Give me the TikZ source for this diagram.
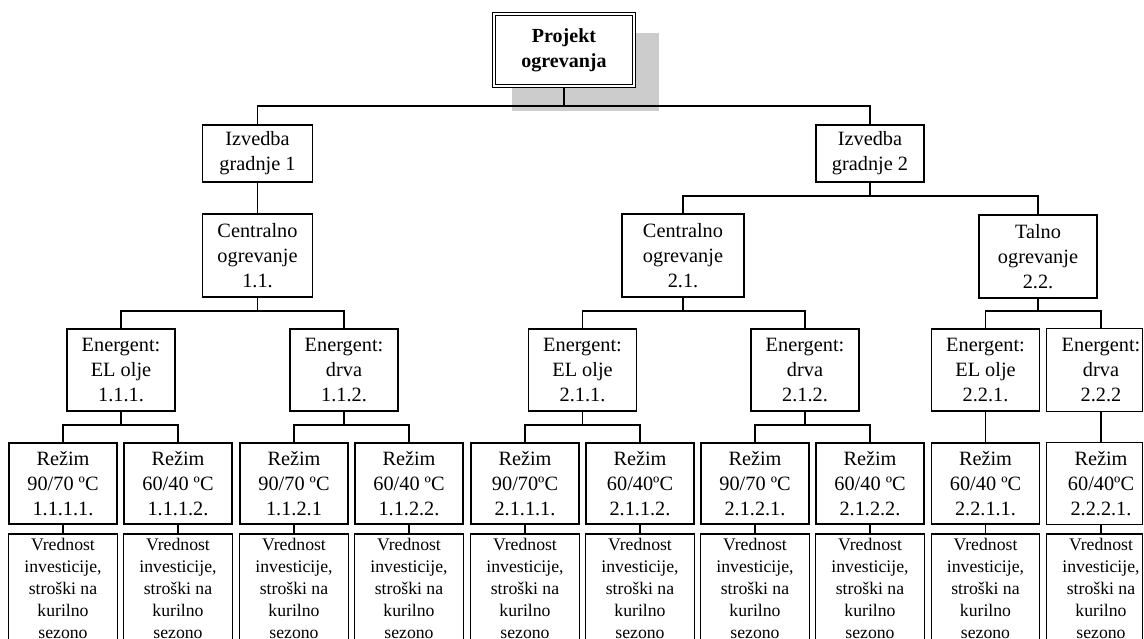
\documentclass[tikz,border=0pt]{standalone}
\usepackage{fontspec}
\setmainfont{Liberation Serif}
\begin{document}
\begin{tikzpicture}[x=1pt,y=-1pt,
  box/.style={draw,line width=1.3pt,align=center,inner sep=0pt,font=\fontsize{20.3}{25}\selectfont},
  ghost/.style={box,draw=none},
  topbox/.style={draw,fill=white,line width=1.2pt,double,double distance=2pt,align=center,inner sep=0pt,
     minimum width=140pt,minimum height=72pt,font=\bfseries\fontsize{20}{25}\selectfont},
  lvltwo/.style={minimum height=57pt},
  lvlthree/.style={minimum height=83pt},
  lvlfour/.style={minimum width=108pt,minimum height=82pt},
  rez/.style={minimum width=108pt,minimum height=81pt},
  cost/.style={align=center,inner xsep=0pt,inner ysep=4.5pt,minimum width=108pt,anchor=north,
     font=\fontsize{17.7}{22}\selectfont},
  conn/.style={line width=1.3pt},
  shadowfill/.style={fill=black!20}
]
\useasboundingbox (0,0) rectangle (1144,639);
\clip (0,0) rectangle (1144,639);

% shadow and top node
\fill[shadowfill] (512,33) rectangle (659,111);
\node[topbox] (top) at (564,50) {Projekt\\ogrevanja};

% level 2
\node[box,lvltwo,minimum width=110pt] (I1) at (257.5,153.5) {Izvedba\\gradnje 1};
\node[box,lvltwo,minimum width=108pt] (I2) at (870,153.5) {Izvedba\\gradnje 2};

% level 3
\node[box,lvlthree,minimum width=110pt] (C11) at (257.5,255.5) {Centralno\\ogrevanje\\1.1.};
\node[box,lvlthree,minimum width=122pt] (C21) at (683,255.5) {Centralno\\ogrevanje\\2.1.};
\node[box,lvlthree,minimum width=118pt] (T22) at (1038,256.5) {Talno\\ogrevanje\\2.2.};

% level 4
\node[box,lvlfour] (E111) at (121,370) {Energent:\\EL olje\\1.1.1.};
\node[box,lvlfour] (E112) at (344,370) {Energent:\\drva\\1.1.2.};
\node[box,lvlfour] (E211) at (582.5,370) {Energent:\\EL olje\\2.1.1.};
\node[box,lvlfour] (E212) at (805,370) {Energent:\\drva\\2.1.2.};
\node[box,lvlfour] (E221) at (985.5,370) {Energent:\\EL olje\\2.2.1.};
\node[ghost,lvlfour] (E222) at (1101,370) {Energent:\\drva\\2.2.2};
\draw[line width=1.3pt] (E222.north west) rectangle ([xshift=-13pt]E222.south east);

% level 5
\node[box,rez] (R1) at (63,483.5) {Režim\\90/70 ºC\\1.1.1.1.};
\node[box,rez] (R2) at (178,483.5) {Režim\\60/40 ºC\\1.1.1.2.};
\node[box,rez] (R3) at (294,483.5) {Režim\\90/70 ºC\\1.1.2.1};
\node[box,rez] (R4) at (409,483.5) {Režim\\60/40 ºC\\1.1.2.2.};
\node[box,rez] (R5) at (525,483.5) {Režim\\90/70ºC\\2.1.1.1.};
\node[box,rez] (R6) at (640,483.5) {Režim\\60/40ºC\\2.1.1.2.};
\node[box,rez] (R7) at (755,483.5) {Režim\\90/70 ºC\\2.1.2.1.};
\node[box,rez] (R8) at (870,483.5) {Režim\\60/40 ºC\\2.1.2.2.};
\node[box,rez] (R9) at (985.5,483.5) {Režim\\60/40 ºC\\2.2.1.1.};
\node[ghost,rez] (R10) at (1101,483.5) {Režim\\60/40ºC\\2.2.2.1.};
\draw[line width=1.3pt] (R10.north west) rectangle ([xshift=-13pt]R10.south east);

% bottom row
\foreach \n/\x in {1/63,2/178,3/294,4/409,5/525,6/640,7/755,8/870,9/985.5,10/1101}{
  \node[cost] (V\n) at (\x,534) {Vrednost\\investicije,\\stroški na\\kurilno\\sezono};
}
\foreach \n in {1,...,9}{
  \draw[line width=1.3pt] (V\n.north west) rectangle ([yshift=-200pt]V\n.north east);
}
\draw[line width=1.3pt] (V10.north west) rectangle ([xshift=-13pt,yshift=-200pt]V10.north east);

% bus levels
\coordinate (b1) at (0,106);
\coordinate (b2) at (0,196);
\coordinate (b3) at (0,311);
\coordinate (b4) at (0,425);

% connectors
\draw[conn] (top.south) -- (top.south |- b1);
\draw[conn] (I1.north) |- (top.south |- b1) -| (I2.north);
\draw[conn] (I1.south) -- (C11.north);
\draw[conn] (I2.south) -- (I2.south |- b2);
\draw[conn] (C21.north) |- (I2.south |- b2) -| (T22.north);

\draw[conn] (C11.south) -- (C11.south |- b3);
\draw[conn] (E111.north) |- (C11.south |- b3) -| (E112.north);
\draw[conn] (C21.south) -- (C21.south |- b3);
\draw[conn] (E211.north) |- (C21.south |- b3) -| (E212.north);
\draw[conn] (T22.south) -- (T22.south |- b3);
\draw[conn] (E221.north) |- (T22.south |- b3) -| (E222.north);

\draw[conn] (E111.south) -- (E111.south |- b4);
\draw[conn] (R1.north) |- (E111.south |- b4) -| (R2.north);
\draw[conn] (E112.south) -- (E112.south |- b4);
\draw[conn] (R3.north) |- (E112.south |- b4) -| (R4.north);
\draw[conn] (E211.south) -- (E211.south |- b4);
\draw[conn] (R5.north) |- (E211.south |- b4) -| (R6.north);
\draw[conn] (E212.south) -- (E212.south |- b4);
\draw[conn] (R7.north) |- (E212.south |- b4) -| (R8.north);
\draw[conn] (E221.south) -- (R9.north);
\draw[conn] (E222.south) -- (R10.north);

\foreach \n in {1,...,10}{
  \draw[conn] (R\n.south) -- (V\n.north);
}
\end{tikzpicture}
\end{document}
